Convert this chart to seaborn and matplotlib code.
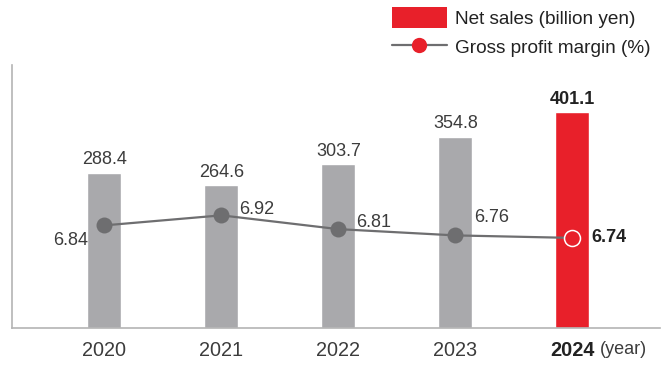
import numpy as np
import pandas as pd
import seaborn as sns
import matplotlib.pyplot as plt
from matplotlib.patches import Patch
from matplotlib.lines import Line2D

years = ["2020", "2021", "2022", "2023", "2024"]
net_sales = [288.4, 264.6, 303.7, 354.8, 401.1]
gross_margin = [6.84, 6.92, 6.81, 6.76, 6.74]

GRAY_BAR = "#a9a9ac"
RED = "#e8202a"
LINE = "#6e6e70"
AXIS = "#b4b4b4"
TEXT = "#3c3c3c"

sns.set_theme(style="white")
plt.rcParams["font.family"] = ["Liberation Sans", "DejaVu Sans"]

fig = plt.figure(figsize=(6.68, 3.65), dpi=100)
ax = fig.add_axes([0.018, 0.101, 0.970, 0.721])

df = pd.DataFrame({"year": years, "sales": net_sales})
palette = {y: (RED if y == "2024" else GRAY_BAR) for y in years}
sns.barplot(data=df, x="year", y="sales", hue="year", palette=palette,
            legend=False, width=0.29, saturation=1, ax=ax)
ax.set_xlim(-0.79, 4.75)
ax.set_ylim(0, 488)
ax.set_xlabel("")
ax.set_ylabel("")
ax.set_yticks([])
for s in ["top", "right"]:
    ax.spines[s].set_visible(False)
for s in ["left", "bottom"]:
    ax.spines[s].set_color(AXIS)
    ax.spines[s].set_linewidth(1.2)
ax.tick_params(axis="x", length=0, pad=9, labelsize=14.3, labelcolor=TEXT)
for lab in ax.get_xticklabels():
    if lab.get_text() == "2024":
        lab.set_fontweight("bold")
        lab.set_color("#222222")
ax.annotate("(year)", xy=(4.24, 0), xycoords=("data", "axes fraction"),
            xytext=(0, -9.5), textcoords="offset points",
            ha="left", va="top", fontsize=13, color=TEXT)

for i, v in enumerate(net_sales):
    last = i == len(net_sales) - 1
    ax.text(i, v + 8, f"{v}", ha="center", va="bottom", fontsize=13,
            color="#222222" if last else TEXT,
            fontweight="bold" if last else "normal")

ax2 = ax.twinx()
xs = np.arange(len(years))
sns.lineplot(x=xs, y=gross_margin, ax=ax2, color=LINE, linewidth=1.6,
             marker="o", markersize=11.5, markeredgewidth=0,
             markerfacecolor=LINE, legend=False)
ax2.plot(xs[-1], gross_margin[-1], marker="o", markersize=11.5,
         markerfacecolor=RED, markeredgecolor="white", markeredgewidth=1.1,
         zorder=5)
ax2.set_ylim(6.02, 8.12)
ax2.set_xlim(-0.79, 4.75)
ax2.set_yticks([])
ax2.set_ylabel("")
for s in ["top", "right", "left", "bottom"]:
    ax2.spines[s].set_visible(False)

offsets = [(-0.14, -0.12, "right"), (0.15, 0.05, "left"), (0.15, 0.05, "left"),
           (0.16, 0.14, "left"), (0.16, 0.0, "left")]
for i, (m, (dx, dy, ha)) in enumerate(zip(gross_margin, offsets)):
    last = i == len(gross_margin) - 1
    ax2.text(i + dx, m + dy, f"{m:.2f}", ha=ha, va="center", fontsize=13,
             color="#222222" if last else TEXT,
             fontweight="bold" if last else "normal")

handles = [Patch(facecolor=RED, edgecolor="none"),
           Line2D([], [], color=LINE, linewidth=1.6, marker="o", markersize=11,
                  markerfacecolor=RED, markeredgewidth=0)]
fig.legend(handles, ["Net sales (billion yen)", "Gross profit margin (%)"],
           loc="upper right", bbox_to_anchor=(1.0, 1.028), frameon=False,
           fontsize=13.7, handlelength=2.9, handleheight=1.3,
           handletextpad=0.45, labelspacing=0.45, labelcolor="#222222")

fig.savefig("out.png", dpi=100)
